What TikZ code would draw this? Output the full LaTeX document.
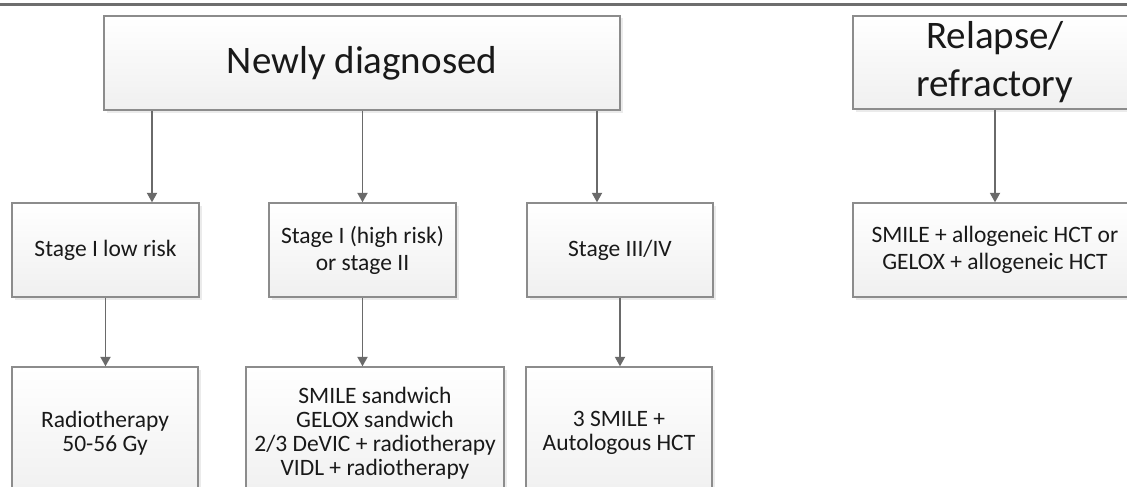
\documentclass[tikz,border=0pt]{standalone}
\usepackage{fontspec}
\setmainfont{Carlito}
\usetikzlibrary{arrows.meta,shadows,calc}
\definecolor{boxline}{HTML}{8C8C8C}
\definecolor{arrline}{HTML}{6A6A6A}
\definecolor{rulecol}{HTML}{6E6E6E}
\tikzset{
  flowbox/.style={draw=boxline, line width=1.3pt, top color=white, bottom color=black!6,
    inner sep=0pt, align=center, text=black!90,
    drop shadow={shadow xshift=2.5pt, shadow yshift=-2.5pt, fill=black, opacity=0.08}},
  smalltext/.style={font=\fontsize{23.5}{27}\selectfont},
  lowtext/.style={font=\fontsize{23.5}{24}\selectfont},
  bigtext/.style={font=\fontsize{39}{48}\selectfont},
  arr/.style={draw=arrline, line width=1.8pt, -{Triangle[length=9.5pt,width=10pt]}}
}
\begin{document}
\begin{tikzpicture}[x=1pt,y=-1pt]
\useasboundingbox (0,0) rectangle (1127,487);
\clip (0,0) rectangle (1127,487);
\fill[white] (0,0) rectangle (1127,487);
\draw[rulecol, line width=3pt] (0,4.5) -- (1127,4.5);

\node[flowbox,bigtext,minimum width=516pt,minimum height=94pt] (newly) at (362,63) {Newly diagnosed};
\node[flowbox,bigtext,minimum width=284pt,minimum height=93pt] (relapse) at (995,62.5) {Relapse/\\refractory};

\node[flowbox,smalltext,minimum width=187pt,minimum height=94pt] (b1) at (105.5,250) {Stage I low risk};
\node[flowbox,smalltext,minimum width=187pt,minimum height=94pt] (b2) at (362.5,250) {Stage I (high risk)\\or stage II};
\node[flowbox,smalltext,minimum width=186pt,minimum height=94pt] (b3) at (620,250) {Stage III/IV};
\node[flowbox,smalltext,minimum width=284pt,minimum height=94pt] (b4) at (995,250) {SMILE + allogeneic HCT or\\GELOX + allogeneic HCT};

\node[flowbox,lowtext,minimum width=186pt,minimum height=132pt] (c1) at (105,433) {Radiotherapy\\50-56 Gy};
\node[flowbox,lowtext,minimum width=258pt,minimum height=132pt] (c2) at (375,433) {SMILE sandwich\\GELOX sandwich\\2/3 DeVIC + radiotherapy\\VIDL + radiotherapy};
\node[flowbox,lowtext,minimum width=186pt,minimum height=132pt] (c3) at (619,433) {3 SMILE +\\Autologous HCT};

\draw[arr] ([xshift=46.5pt]b1.north |- newly.south) -- ([xshift=46.5pt]b1.north);
\draw[arr] (b2.north |- newly.south) -- (b2.north);
\draw[arr] ([xshift=-23pt]b3.north |- newly.south) -- ([xshift=-23pt]b3.north);
\draw[arr] (relapse.south) -- (b4.north);

\draw[arr] (b1.south) -- (b1.south |- c1.north);
\draw[arr] (b2.south) -- (b2.south |- c2.north);
\draw[arr] (b3.south) -- (b3.south |- c3.north);
\end{tikzpicture}
\end{document}
